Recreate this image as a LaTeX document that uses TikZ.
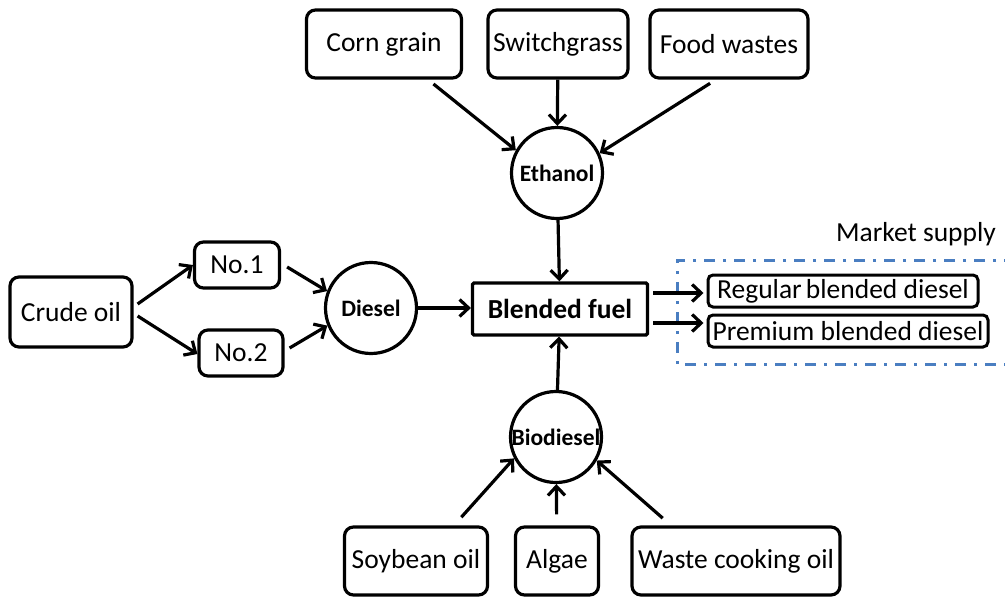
\documentclass[tikz,border=0pt]{standalone}
\usepackage{fontspec}
\setmainfont{Carlito}
\usetikzlibrary{arrows.meta}
\definecolor{mblue}{HTML}{4A7EC1}
\begin{document}
\begin{tikzpicture}[x=1pt,y=-1pt,
  every node/.style={font=\fontsize{27.5}{32}\selectfont},
  rbox/.style={draw,line width=3.2pt,rounded corners=9pt,inner sep=0pt,align=center},
  circ/.style={draw,circle,line width=3.2pt,minimum size=91pt,inner sep=0pt,font=\fontsize{23.5}{28}\selectfont\bfseries},
  mbox/.style={draw,line width=3pt,rounded corners=5pt,inner sep=0pt},
  arr/.style={line width=3.2pt,-{Straight Barb[length=9pt,width=17pt]}}]
\useasboundingbox (0,0) rectangle (1005,597);
% top sources
\node[rbox,minimum width=155pt,minimum height=68pt] (corn) at (384,44) {Corn grain};
\node[rbox,minimum width=140pt,minimum height=68pt] (sw) at (558,44) {Switchgrass};
\node[rbox,minimum width=158pt,minimum height=68pt] (food) at (729,44) {Food wastes};
\node[circ] (eth) at (557,173) {Ethanol};
% center
\node[draw,line width=3.2pt,rounded corners=1.5pt,minimum width=175pt,minimum height=52pt,inner sep=0pt,font=\fontsize{27.5}{32}\selectfont\bfseries] (blend) at (560,309) {Blended fuel};
\node[circ] (dies) at (371,308) {Diesel};
\node[rbox,minimum width=122pt,minimum height=70pt] (crude) at (71,312) {Crude oil};
\node[rbox,minimum width=85pt,minimum height=46pt] (no1) at (237,265) {No.1};
\node[rbox,minimum width=84pt,minimum height=46pt] (no2) at (241,353) {No.2};
% bottom
\node[circ] (bio) at (556,437) {Biodiesel};
\node[rbox,minimum width=143pt,minimum height=68pt] (soy) at (416,561) {Soybean oil};
\node[rbox,minimum width=83pt,minimum height=68pt] (alg) at (557,561) {Algae};
\node[rbox,minimum width=208pt,minimum height=68pt] (waste) at (736,561) {Waste cooking oil};
% market
\node[mbox,minimum width=270pt,minimum height=32pt] (reg) at (843,291) {Regular\hspace{-2pt} blended diesel};
\node[mbox,minimum width=280pt,minimum height=32pt] (prem) at (848,331) {Premium blended diesel};
\node (ms) at (916,234) {Market supply};
\draw[mblue,line width=3pt,dash pattern=on 11pt off 8pt on 3pt off 8pt] (1015,260) -- (677,260) -- (677,364) -- (1015,364);
% connectors
\draw[arr,shorten <=7pt] ([xshift=44pt]corn.south) -- (eth.151);
\draw[arr] (sw) -- (eth);
\draw[arr,shorten <=7pt] ([xshift=-13pt]food.south) -- (eth.25);
\draw[arr] (eth) -- (blend);
\draw[arr] (bio) -- (blend);
\draw[arr] (dies.east) -- (blend.west |- dies.east);
\draw[arr] ([shift={(4,-8)}]crude.east) -- (no1.west);
\draw[arr] ([shift={(4,4)}]crude.east) -- ([yshift=-1pt]no2.west);
\draw[arr] ([shift={(6,2)}]no1.east) -- (dies.159);
\draw[arr] ([shift={(5,-5)}]no2.east) -- (dies.202);
\draw[arr,shorten <=11pt] ([xshift=38pt]soy.north) -- (bio.207);
\draw[arr,shorten <=11pt] (alg) -- (bio);
\draw[arr,shorten <=11pt] ([xshift=-65pt]waste.north) -- (bio.330);
\coordinate (r1) at ([shift={(4,-16)}]blend.east);
\coordinate (r2) at ([shift={(4,14)}]blend.east);
\draw[arr,shorten >=3pt] (r1) -- (reg.west |- r1);
\draw[arr,shorten >=3pt] (r2) -- (prem.west |- r2);
\end{tikzpicture}
\end{document}
